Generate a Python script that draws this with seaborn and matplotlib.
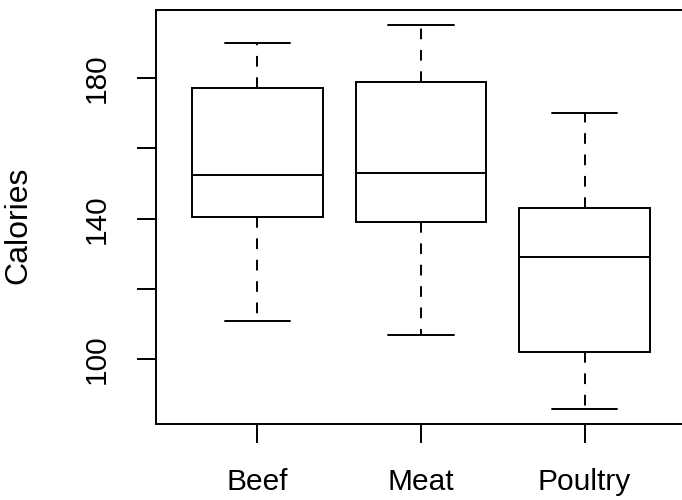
import pandas as pd
import seaborn as sns
import matplotlib.pyplot as plt

# hot dog calories by type
beef = [186, 181, 176, 149, 184, 190, 158, 139, 175, 148,
        152, 111, 141, 153, 190, 157, 131, 149, 135, 132]
meat = [173, 191, 182, 190, 172, 147, 146, 139, 175, 136,
        179, 153, 107, 195, 135, 140, 138]
poultry = [129, 132, 102, 106, 94, 102, 87, 99, 170, 113,
           135, 142, 86, 143, 152, 146, 144]
types = ['Beef', 'Meat', 'Poultry']
yticks = [100, 120, 140, 160, 180]
ytick_labels = ['100', '', '140', '', '180']

hotdogs = pd.DataFrame({
    'Type': ['Beef'] * len(beef) + ['Meat'] * len(meat) + ['Poultry'] * len(poultry),
    'Calories': beef + meat + poultry,
})

sns.set_style('white')
plt.rcParams['font.family'] = ['Liberation Sans', 'DejaVu Sans']
plt.rcParams['text.color'] = 'black'
plt.rcParams['axes.labelcolor'] = 'black'

fig = plt.figure(figsize=(6.82, 5), dpi=100)
ax = fig.add_axes([156 / 682, 76 / 500, 530 / 682, 414 / 500])

lw = 1.4
sns.boxplot(data=hotdogs, x='Type', y='Calories', order=types,
            color='white', linecolor='black', linewidth=lw, width=0.8,
            whiskerprops=dict(linestyle=(0, (5.5, 5.5))),
            showfliers=True, ax=ax)

ax.set_xlim(-0.62, 2.62)
ax.set_ylim(81.64, 199.36)
ax.set_yticks(yticks)
ax.set_yticklabels(ytick_labels, rotation=90, va='center')
ax.set_xlabel('')
ax.set_ylabel('Calories', fontsize=23, color='black')
ax.yaxis.set_label_coords((33 - 156) / 530, 0.48)

ax.tick_params(axis='both', direction='out', length=13.7, width=lw,
               color='black', labelsize=21.5, labelcolor='black')
ax.tick_params(axis='x', pad=18, bottom=True)
ax.tick_params(axis='y', pad=19, left=True)
for s in ax.spines.values():
    s.set_visible(True)
    s.set_color('black')
    s.set_linewidth(lw)

fig.savefig('out.png', dpi=100)
